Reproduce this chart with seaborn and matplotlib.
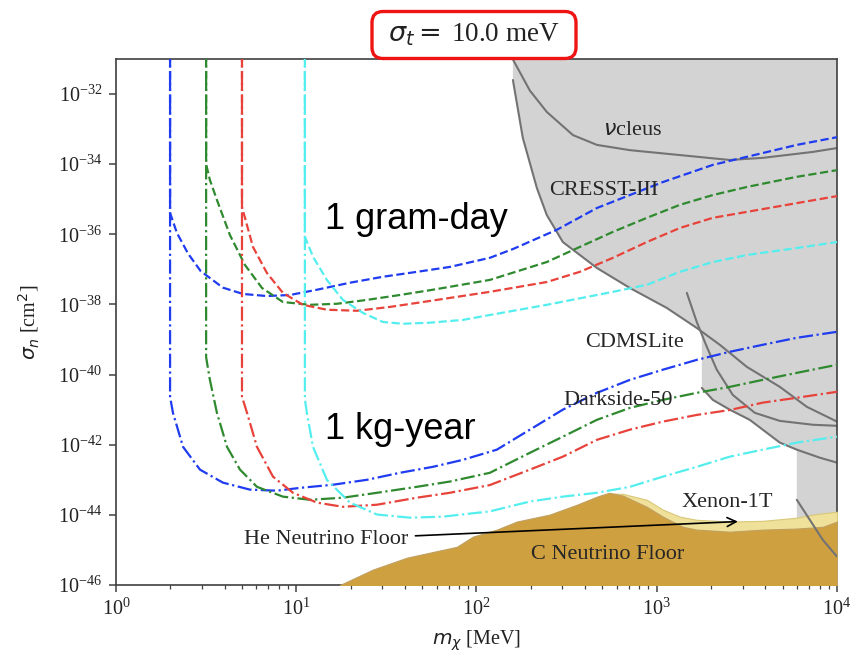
import numpy as np
import pandas as pd
import matplotlib
matplotlib.use("Agg")
import matplotlib.pyplot as plt
import seaborn as sns
from matplotlib.patches import FancyBboxPatch
from matplotlib.ticker import FixedLocator, NullLocator, LogLocator

# ---------------- data (log10 of m [MeV] and log10 of sigma [cm^2]) ----------------
# 1 gram-day (dashed)
gd_blue_logm = [0.30, 0.30, 0.338, 0.400, 0.470, 0.593, 0.704, 0.837, 0.965, 1.115, 1.298, 1.481, 1.669, 1.852, 2.074, 2.202, 2.446, 2.668, 2.851, 3.034, 3.311, 3.500, 3.777, 4.0]
gd_blue_logs = [-30.0, -35.39, -35.96, -36.55, -37.05, -37.52, -37.70, -37.76, -37.73, -37.58, -37.38, -37.21, -37.07, -36.93, -36.67, -36.42, -35.87, -35.25, -34.88, -34.51, -34.02, -33.79, -33.45, -33.23]
gd_green_logm = [0.50, 0.50, 0.521, 0.560, 0.632, 0.715, 0.810, 0.926, 1.076, 1.226, 1.392, 1.575, 1.758, 2.074, 2.390, 2.573, 2.757, 2.945, 3.128, 3.311, 3.500, 3.777, 4.0]
gd_green_logs = [-30.0, -34.0, -34.45, -35.02, -36.02, -36.87, -37.53, -37.93, -38.01, -37.98, -37.87, -37.73, -37.58, -37.30, -36.79, -36.36, -35.93, -35.53, -35.16, -34.88, -34.65, -34.36, -34.17]
gd_red_logm = [0.699, 0.699, 0.760, 0.837, 0.926, 1.037, 1.170, 1.337, 1.520, 1.703, 2.074, 2.390, 2.573, 2.757, 2.945, 3.128, 3.311, 3.500, 3.777, 4.0]
gd_red_logs = [-30.0, -35.22, -36.36, -37.10, -37.67, -38.01, -38.15, -38.18, -38.07, -37.93, -37.64, -37.36, -37.07, -36.67, -36.22, -35.82, -35.53, -35.36, -35.11, -34.91]
gd_cyan_logm = [1.048, 1.048, 1.093, 1.170, 1.259, 1.370, 1.481, 1.592, 1.742, 1.925, 2.074, 2.390, 2.757, 2.945, 3.128, 3.311, 3.500, 3.777, 4.0]
gd_cyan_logs = [-30.0, -36.07, -36.64, -37.30, -37.87, -38.24, -38.50, -38.55, -38.52, -38.44, -38.30, -38.01, -37.64, -37.44, -37.07, -36.79, -36.59, -36.39, -36.22]

# 1 kg-year (dash-dot)
kg_blue_logm = [0.30, 0.30, 0.316, 0.372, 0.466, 0.593, 0.743, 0.893, 1.021, 1.204, 1.392, 1.575, 1.758, 1.925, 2.113, 2.296, 2.479, 2.668, 2.851, 3.034, 3.222, 3.405, 3.588, 3.777, 4.0]
kg_blue_logs = [-30.0, -40.63, -41.09, -42.06, -42.71, -43.08, -43.28, -43.31, -43.23, -43.14, -43.00, -42.80, -42.63, -42.43, -42.14, -41.57, -41.00, -40.52, -40.15, -39.86, -39.58, -39.35, -39.15, -38.95, -38.78]
kg_green_logm = [0.50, 0.50, 0.505, 0.521, 0.560, 0.616, 0.688, 0.782, 0.926, 1.076, 1.259, 1.448, 1.669, 1.852, 2.074, 2.296, 2.479, 2.668, 2.851, 3.034, 3.222, 3.405, 3.588, 3.777, 4.0]
kg_green_logs = [-30.0, -39.50, -39.66, -40.15, -41.09, -42.06, -42.71, -43.20, -43.48, -43.57, -43.51, -43.37, -43.20, -43.05, -42.80, -42.23, -41.77, -41.29, -40.95, -40.72, -40.52, -40.35, -40.15, -39.95, -39.72]
kg_red_logm = [0.699, 0.699, 0.727, 0.782, 0.871, 0.982, 1.115, 1.259, 1.448, 1.669, 1.852, 2.074, 2.296, 2.479, 2.668, 2.851, 3.034, 3.222, 3.405, 3.588, 3.777, 4.0]
kg_red_logs = [-30.0, -40.63, -41.09, -42.06, -42.91, -43.37, -43.65, -43.77, -43.71, -43.51, -43.37, -43.15, -42.71, -42.34, -41.86, -41.57, -41.34, -41.15, -41.01, -40.80, -40.66, -40.49]
kg_cyan_logm = [1.048, 1.048, 1.059, 1.093, 1.170, 1.298, 1.448, 1.631, 1.814, 2.074, 2.296, 2.479, 2.668, 2.851, 3.034, 3.222, 3.405, 3.588, 3.777, 4.0]
kg_cyan_logs = [-30.0, -40.70, -41.09, -42.06, -43.00, -43.65, -43.99, -44.08, -44.05, -43.90, -43.62, -43.48, -43.37, -43.20, -42.91, -42.63, -42.34, -42.14, -41.94, -41.77]

# Existing limits (grey lines)
nucleus_logm = [2.190, 2.296, 2.390, 2.535, 2.668, 2.851, 3.128, 3.405, 3.588, 3.866, 4.0]
nucleus_logs = [-30.90, -31.90, -32.51, -33.17, -33.45, -33.60, -33.74, -33.88, -33.82, -33.65, -33.54]
cresst_logm = [2.202, 2.257, 2.335, 2.390, 2.479, 2.668, 2.851, 3.056, 3.222, 3.350, 3.500, 3.683, 3.833, 4.0]
cresst_logs = [-31.60, -33.25, -34.68, -35.45, -36.22, -36.96, -37.53, -38.10, -38.67, -39.15, -39.78, -40.35, -40.92, -41.34]
cdms_logm = [3.167, 3.222, 3.278, 3.333, 3.422, 3.544, 3.683, 3.866, 4.0]
cdms_logs = [-37.67, -38.50, -39.21, -39.86, -40.58, -41.09, -41.32, -41.43, -41.46]
darkside_logm = [3.250, 3.311, 3.405, 3.516, 3.611, 3.683, 3.777, 3.905, 4.0]
darkside_logs = [-40.38, -40.72, -41.00, -41.29, -41.66, -41.94, -42.14, -42.37, -42.51]
xenon_logm = [3.777, 3.849, 3.921, 4.0]
xenon_logs = [-43.57, -44.14, -44.71, -45.19]

# Excluded (grey) region outline
excl_logm = [2.202, 2.202, 2.257, 2.335, 2.390, 2.479, 2.668, 2.851, 3.056, 3.222, 3.250, 3.250, 3.311, 3.405, 3.516, 3.611, 3.683, 3.777, 3.777, 4.0, 4.0]
excl_logs = [-30.0, -31.60, -33.25, -34.68, -35.45, -36.22, -36.96, -37.53, -38.10, -38.67, -38.80, -40.38, -40.72, -41.00, -41.29, -41.66, -41.94, -42.14, -47.0, -47.0, -30.0]

# Neutrino floors
c_floor_logm = [1.242, 1.425, 1.614, 1.891, 1.980, 2.113, 2.224, 2.407, 2.557, 2.668, 2.735, 2.812, 2.945, 3.034, 3.145, 3.222, 3.405, 3.588, 3.777, 3.921, 4.0]
c_floor_logs = [-46.0, -45.56, -45.22, -44.91, -44.62, -44.42, -44.19, -43.99, -43.71, -43.48, -43.37, -43.45, -43.77, -44.05, -44.34, -44.42, -44.48, -44.42, -44.39, -44.34, -44.19]
he_floor_logm = [2.629, 2.735, 2.812, 2.945, 3.034, 3.128, 3.222, 3.405, 3.588, 3.777, 3.866, 4.0]
he_floor_logs = [-43.62, -43.39, -43.40, -43.57, -43.85, -44.05, -44.14, -44.19, -44.17, -44.08, -43.99, -43.91]

x_ticks = [1e0, 1e1, 1e2, 1e3, 1e4]
y_ticks = [1e-46, 1e-44, 1e-42, 1e-40, 1e-38, 1e-36, 1e-34, 1e-32]

colors = {"blue": "#1f3cf0", "green": "#2f8a2f", "red": "#e8433a", "cyan": "#55eeee"}

# ---------------- style ----------------
sns.set_theme(style="ticks")
plt.rcParams["font.family"] = ["serif"]
plt.rcParams["font.serif"] = ["Liberation Serif", "DejaVu Serif"]
plt.rcParams["mathtext.fontset"] = "dejavusans"
plt.rcParams["axes.edgecolor"] = "#404040"
plt.rcParams["xtick.color"] = "#404040"
plt.rcParams["ytick.color"] = "#404040"
plt.rcParams["xtick.labelcolor"] = "#222222"
plt.rcParams["ytick.labelcolor"] = "#222222"

fig = plt.figure(figsize=(8.56, 6.56), dpi=100)
ax = fig.add_axes([0.1355, 0.1082, 0.8423, 0.8019])
ax.set_xscale("log")
ax.set_yscale("log")

def P(a):
    return 10.0 ** np.asarray(a)

# grey excluded region
ax.fill(P(excl_logm), P(excl_logs), color="#d3d3d3", lw=0, zorder=1)

grey = "#737373"
for lm, ls in [(nucleus_logm, nucleus_logs), (cresst_logm, cresst_logs),
               (cdms_logm, cdms_logs), (darkside_logm, darkside_logs)]:
    sns.lineplot(x=P(lm), y=P(ls), ax=ax, color=grey, lw=1.5, sort=False,
                 estimator=None, zorder=2)

# projected sensitivity curves
curves = [
    ("blue", gd_blue_logm, gd_blue_logs, "--"),
    ("green", gd_green_logm, gd_green_logs, "--"),
    ("red", gd_red_logm, gd_red_logs, "--"),
    ("cyan", gd_cyan_logm, gd_cyan_logs, "--"),
    ("blue", kg_blue_logm, kg_blue_logs, "-."),
    ("green", kg_green_logm, kg_green_logs, "-."),
    ("red", kg_red_logm, kg_red_logs, "-."),
    ("cyan", kg_cyan_logm, kg_cyan_logs, "-."),
]
for c, lm, ls, sty in curves:
    sns.lineplot(x=P(lm), y=P(ls), ax=ax, color=colors[c], lw=1.6,
                 linestyle=sty, sort=False, estimator=None, zorder=3)

# neutrino floors
ax.fill_between(P(he_floor_logm), 1e-47, P(he_floor_logs), facecolor="#efe09a",
                edgecolor="#d8c878", lw=0.8, zorder=4)
ax.fill_between(P(c_floor_logm), 1e-47, P(c_floor_logs), facecolor="#cfa03f",
                edgecolor="#c0a060", lw=0.8, zorder=5)
sns.lineplot(x=P(xenon_logm), y=P(xenon_logs), ax=ax, color=grey, lw=1.5,
             sort=False, estimator=None, zorder=6)

# labels
lab = dict(fontsize=16, color="#262626", ha="center", va="center", zorder=7)
ax.text(10**2.868, 10**-33.05, r"$\nu$cleus", **lab)
ax.text(10**2.707, 10**-34.74, "CRESST-III", **lab)
ax.text(10**2.879, 10**-39.09, "CDMSLite", **lab)
ax.text(10**2.784, 10**-40.75, "Darkside-50", **lab)
ax.text(10**3.389, 10**-43.65, "Xenon-1T", **lab)
ax.text(10**2.729, 10**-45.13, "C Neutrino Floor", **lab)
ax.annotate("He Neutrino Floor", xy=(10**3.45, 10**-44.19),
            xytext=(10**1.62, 10**-44.71), ha="right", va="center",
            fontsize=16, color="#262626", zorder=7,
            arrowprops=dict(arrowstyle="->", color="black", lw=1.2,
                            shrinkA=3, shrinkB=0))

big = dict(fontsize=26, family=["Liberation Sans", "DejaVu Sans"], color="black",
           ha="left", va="center", zorder=7)
ax.text(10**1.159, 10**-35.59, "1 gram-day", **big)
ax.text(10**1.159, 10**-41.57, "1 kg-year", **big)

# title with red rounded box (figure inches)
box = FancyBboxPatch((3.72, 5.975), 2.04, 0.47,
                     boxstyle="round,pad=0,rounding_size=0.11",
                     transform=fig.dpi_scale_trans, fc="white", ec="#ee1414",
                     lw=2.4, zorder=10)
fig.patches.append(box)
fig.text(4.74, 6.215, r"$\sigma_t =\,$10.0 meV", transform=fig.dpi_scale_trans,
         ha="center", va="center", fontsize=19.5, color="#222222", zorder=11)

# axes
ax.set_xlim(1e0, 1e4)
ax.set_ylim(1e-46, 1e-31)
ax.xaxis.set_major_locator(FixedLocator(x_ticks))
ax.xaxis.set_minor_locator(LogLocator(base=10, subs=np.arange(2, 10), numticks=20))
ax.yaxis.set_major_locator(FixedLocator(y_ticks))
ax.yaxis.set_minor_locator(NullLocator())
ax.tick_params(axis="both", which="major", labelsize=14.5, length=5, width=1.1, pad=5)
ax.tick_params(axis="x", which="minor", length=3, width=0.9)
for s in ax.spines.values():
    s.set_linewidth(1.2)

ax.set_xlabel(r"$m_\chi$ [MeV]", fontsize=14.5, labelpad=6, color="#222222")
ax.set_ylabel(r"$\sigma_n$ [cm$^2$]", fontsize=14.5, labelpad=12, color="#222222")

fig.savefig("out.png", dpi=100)
